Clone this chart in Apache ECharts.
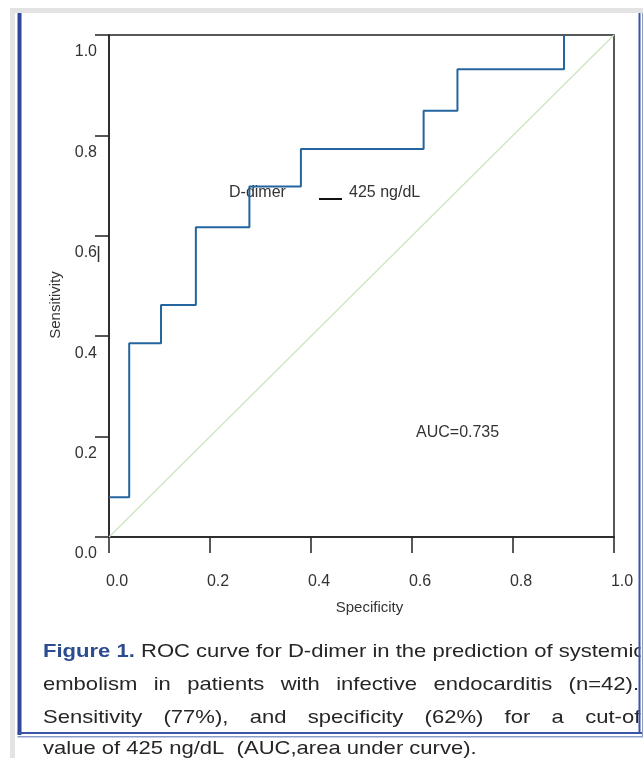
<!DOCTYPE html>
<html>
<head>
<meta charset="utf-8">
<script src="https://cdn.jsdelivr.net/npm/echarts@6/dist/echarts.min.js"></script>
<style>
html,body{margin:0;padding:0;background:#fff;}
#chart{width:643px;height:758px;}
</style>
</head>
<body>
<div id="chart"></div>
<script>
// ---- data ----
const rocSpecificity = [0, 0.04, 0.103, 0.172, 0.278, 0.380, 0.623, 0.690, 0.901];
const rocSensitivity = [0.079, 0.386, 0.462, 0.617, 0.698, 0.773, 0.849, 0.932, 1.0];
const refX = [0, 1];
const refY = [0, 1];
const xTicks = [0, 0.2, 0.4, 0.6, 0.8, 1.0];
const yTicks = [0, 0.2, 0.4, 0.6, 0.8, 1.0];
const curveLabel = 'D-dimer';
const cutoffLabel = '425 ng/dL';
const aucLabel = 'AUC=0.735';
const captionLines = [
  [['Figure', true], ['1.', true], 'ROC', 'curve', 'for', 'D-dimer', 'in', 'the', 'prediction', 'of', 'systemic'],
  ['embolism', 'in', 'patients', 'with', 'infective', 'endocarditis', '(n=42).'],
  ['Sensitivity', '(77%),', 'and', 'specificity', '(62%)', 'for', 'a', 'cut-off'],
  ['value', 'of', '425', 'ng/dL', '', '(AUC,area', 'under', 'curve).']
];

const FONT = '"Liberation Sans", Arial, sans-serif';
const chart = echarts.init(document.getElementById('chart'), null, {renderer: 'canvas'});

// ---- caption layout (justified words) ----
const cv = document.createElement('canvas').getContext('2d');
const capSize = 19, capScale = 1.16;
function wordWidth(w, bold) {
  cv.font = (bold ? 'bold ' : '') + capSize + 'px ' + FONT;
  return cv.measureText(w).width * capScale;
}
function layoutLine(words, y, left, right, justify) {
  const items = words.map(w => Array.isArray(w) ? {t: w[0], b: w[1]} : {t: w, b: false});
  const widths = items.map(it => wordWidth(it.t, it.b));
  const space = wordWidth(' ', false);
  const total = widths.reduce((a, b) => a + b, 0);
  let gap = space;
  if (justify && items.length > 1) {
    const g = (right - left - total) / (items.length - 1);
    if (g > space) gap = g;
  }
  const out = [];
  let x = left;
  items.forEach((it, i) => {
    if (it.t !== '') {
      out.push({
        type: 'text', x: x, y: y, scaleX: capScale, z: 5,
        style: {
          text: it.t, fill: it.b ? '#2b4c8f' : '#262626',
          font: (it.b ? 'bold ' : '') + capSize + 'px ' + FONT,
          verticalAlign: 'middle', align: 'left'
        }
      });
    }
    x += widths[i] + gap;
  });
  return out;
}
let captionEls = [];
captionEls = captionEls.concat(layoutLine(captionLines[0], 652, 43, 646, false));
captionEls = captionEls.concat(layoutLine(captionLines[1], 685, 43, 639, true));
captionEls = captionEls.concat(layoutLine(captionLines[2], 718, 43, 646, true));
captionEls = captionEls.concat(layoutLine(captionLines[3], 749, 43, 643, false));

const frameEls = [
  {type: 'rect', shape: {x: 10, y: 8, width: 633, height: 5}, style: {fill: '#e3e3e3'}, z: 1},
  {type: 'rect', shape: {x: 10, y: 8, width: 5, height: 750}, style: {fill: '#e3e3e3'}, z: 1},
  {type: 'rect', shape: {x: 640.5, y: 620, width: 3, height: 120}, style: {fill: '#ffffff'}, z: 8},
  {type: 'rect', shape: {x: 17.5, y: 13, width: 4, height: 722}, style: {fill: '#2d479f'}, z: 9},
  {type: 'rect', shape: {x: 17.5, y: 732, width: 626, height: 2}, style: {fill: '#3a55a8'}, z: 9},
  {type: 'rect', shape: {x: 17.5, y: 736, width: 626, height: 1.5}, style: {fill: '#8c9dcc'}, z: 9},
  {type: 'rect', shape: {x: 638.5, y: 13, width: 2, height: 721}, style: {fill: '#3a55a8'}, z: 9},
  {type: 'rect', shape: {x: 642, y: 13, width: 1, height: 724}, style: {fill: '#8c9dcc'}, z: 9}
];

const plotText = [
  {type: 'text', x: 229, y: 193, z: 1, style: {text: curveLabel, font: '16px ' + FONT, fill: '#333', verticalAlign: 'middle'}},
  {type: 'line', shape: {x1: 319, y1: 199, x2: 342, y2: 199}, style: {stroke: '#111', lineWidth: 2}, z: 1},
  {type: 'text', x: 349, y: 193, z: 1, style: {text: cutoffLabel, font: '16px ' + FONT, fill: '#333', verticalAlign: 'middle'}},
  {type: 'text', x: 416, y: 433, z: 1, style: {text: aucLabel, font: '16px ' + FONT, fill: '#333', verticalAlign: 'middle'}},
  {type: 'line', shape: {x1: 98.5, y1: 246, x2: 98.5, y2: 262}, style: {stroke: '#333', lineWidth: 1.5}, z: 1}
];

const axisColor = '#222';
const option = {
  animation: false,
  backgroundColor: '#ffffff',
  textStyle: {fontFamily: FONT},
  grid: {left: 109, top: 35, width: 505, height: 502, show: true, borderColor: axisColor, borderWidth: 1.5},
  xAxis: {
    type: 'value', min: xTicks[0], max: xTicks[xTicks.length - 1], interval: 0.2,
    name: 'Specificity', nameLocation: 'middle', nameGap: 63,
    nameTextStyle: {fontSize: 15, color: '#333', padding: [0, 0, 0, 16]},
    axisLine: {show: true, onZero: false, lineStyle: {color: axisColor, width: 1.5}},
    axisTick: {show: true, length: 16, lineStyle: {color: axisColor, width: 1.5}},
    splitLine: {show: false},
    axisLabel: {margin: 37, fontSize: 16, color: '#333', padding: [0, 0, 0, 16],
      formatter: v => v.toFixed(1), showMinLabel: true, showMaxLabel: true}
  },
  yAxis: {
    type: 'value', min: yTicks[0], max: yTicks[yTicks.length - 1], interval: 0.2,
    name: 'Sensitivity', nameLocation: 'middle', nameGap: 46,
    nameTextStyle: {fontSize: 15, color: '#333', padding: [0, 38, 0, 0]},
    axisLine: {show: true, onZero: false, lineStyle: {color: axisColor, width: 1.5}},
    axisTick: {show: true, length: 14, lineStyle: {color: axisColor, width: 1.5}},
    splitLine: {show: false},
    axisLabel: {margin: 12, fontSize: 16, color: '#333', lineHeight: 34,
      formatter: v => '\n' + v.toFixed(1), showMinLabel: true, showMaxLabel: true}
  },
  series: [
    {
      type: 'line', name: 'Reference', silent: true, symbol: 'none', z: 1,
      data: refX.map((x, i) => [x, refY[i]]),
      lineStyle: {color: '#cce6bf', width: 1.3}
    },
    {
      type: 'line', name: curveLabel, silent: true, symbol: 'none', step: 'end', z: 3, clip: false,
      data: rocSpecificity.map((x, i) => [x, rocSensitivity[i]]),
      lineStyle: {color: '#23669f', width: 2}
    }
  ],
  graphic: {elements: frameEls.concat(plotText).concat(captionEls)}
};
chart.setOption(option);
</script>
</body>
</html>
